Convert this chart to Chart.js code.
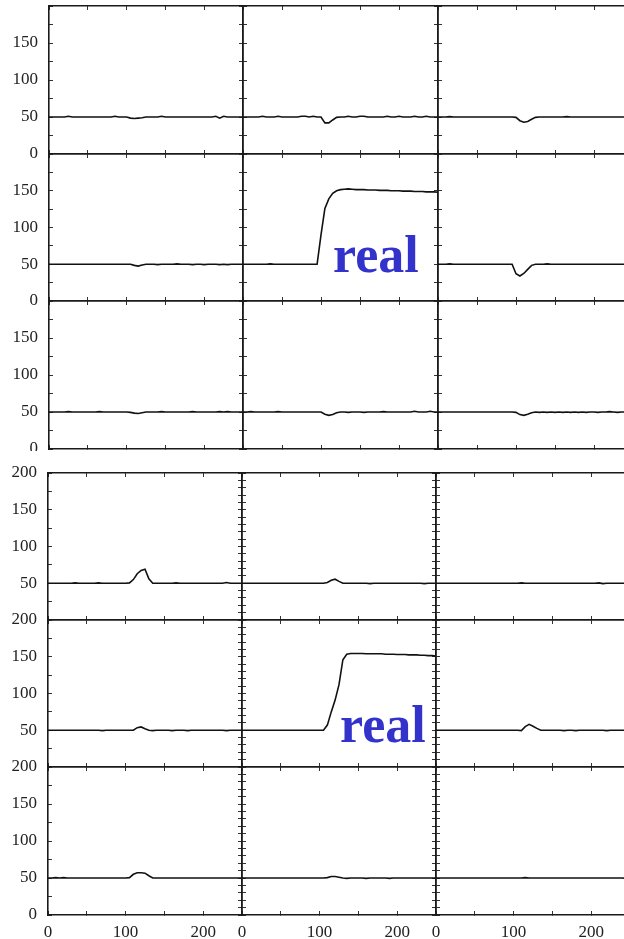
<!DOCTYPE html>
<html><head><meta charset="utf-8">
<script src="https://cdn.jsdelivr.net/npm/chart.js@4.4.1/dist/chart.umd.min.js"></script>
<style>
html,body{margin:0;padding:0;background:#fff;width:624px;height:939px;overflow:hidden;}
body{position:relative;}
canvas{position:absolute;}
.real{position:absolute;z-index:10;font-family:"Liberation Serif","Times New Roman",serif;font-weight:bold;font-size:52px;line-height:52px;color:rgb(51,51,204);white-space:nowrap;}
</style></head><body>
<div id="wrap"></div>
<div class="real" style="left:333px;top:229px">real</div>
<div class="real" style="left:340px;top:699px">real</div>
<script>
// ---- data ----
const xValues = [0,5,10,15,20,25,30,35,40,45, 50,55,60,65,70,75,80,85,90,95,
  100,105,110,115,120,125,130,135,140,145, 150,155,160,165,170,175,180,185,190,195,
  200,205,210,215,220,225,230,235,240,245, 250];

const xTickLabels = [0, 100, 200];
const yTickLabelsTop = [0, 50, 100, 150];
const yTickLabelsBottom = [50, 100, 150, 200];
const yTickLabelsBottomLast = [0, 50, 100, 150, 200];

// upper block of panels
const T11 = [50,50,50,50,50,51,50,50,50,50, 50,50,50,50,50,50,50,51,50,50,
  50,48.5,48,48.5,49,50,50,50,50,51, 50,50,50,50,50,50,50,50,50,50,
  50,50,50,51,48.5,51,50,50,50,50, 50];
const T12 = [50,50,50,50,50,51,50,50,50,51, 50,50,50,50,50,51,51,50,51,50,
  50,42,42,46,49.5,50,50,51,50,50, 51,51,50,50,50,50,50,51,50,50,
  51,50,50,50,51,50,50,51,50,50, 50];
const T13 = [50,50,50,50.5,50,50,50,50,50,50, 50,50,50,50,50,50,50,50,50,50,
  49.5,45,43,44,47,49.5,50,50,50,50, 50,50,50,50.5,50,50,50,50,50,50,
  50,50,50,50,50,50,50,50,50,50, 50];
const T21 = [50,50,50,50,50,50,50,50,50,50, 50,50,50,50,50,50,50,50,50,50,
  50,50,48.5,47.5,49,50,50,50,49.5,50, 50,50,50,50.5,50,50,50,49.5,50,50,
  49.5,50,50,50,49.5,50,49.5,50,50,50, 50];
const T22 = [50,50,50,50,50,50,50,50.5,50,50, 50,50,50,50,50,50,50,50,50,50,
  90,126,139,146.5,150,151.5,152,152.5,152,151.5, 151.5,151.5,151,151,151,150.5,150.5,150.5,150,150,
  150,149.5,149.5,149.5,149,149,149,148.5,148.5,148.5, 148];
const T23 = [50,50,50,50.5,50,50,50,50,50,50, 50,50,50,50,50,50,50,50,50,50,
  37,34,37.5,43,48.5,50,50,50,50.5,50, 50,50,50,50,50,50,50,50,50,50,
  50,50,50,50,50,50,50,50,50,50, 50];
const T31 = [50,50,50,50,50,50.5,50,50,50,50, 50,50,50,50.5,50,50,50,50,50,50,
  50,49.5,48.5,48,49,50,50,50,50,50.5, 50,50,50,50,50,50,50,50.5,50,50,
  50,50,50,50,50.5,50,50.5,50,50,50, 50];
const T32 = [50,50,50.5,50,50,50,50,50,50,50.5, 50,50,50,50,50,50,50,50,50,50,
  50,47,45.5,46.5,49,50,50,49.5,50,50, 50,49.5,50,50,50,50,50.5,50,50,50,
  50,50,50,50,51,50,50,50,51,50, 50];
const T33 = [50,50,50,50,50,50,50,50,50,50, 50,50,50,50,50,50,50,50,50,50,
  49.5,46.5,45.5,47,49,50,49.5,50,49.5,50, 49.5,50,49.5,50,49.5,50,49.5,50,49.5,50,
  50,49.5,50,50,50.5,50,49.5,50,50,50, 50];

// lower block of panels
const B11 = [50,50,50,50,50,50,50,50.5,50,50, 50,50,50,50.5,50,50,50,50,50,50,
  50,50.5,55,63,67.5,69,56,50,50,50, 50,50,50,50.5,50,50,50,50,50,50,
  50,50,50,50,50,50,51,50,50,50, 50];
const B12 = [50,50,50,50,50,50,50,50,50,50, 50,50,50,50,50,50,50,50,50,50,
  50,50,51,54,55.5,52.5,50,50,50,50, 50,50,50,49.5,50,50,50,50,50,50,
  50,50,50,50,50,50,50,49.5,50,50, 50];
const B13 = [50,50,50,50,50,50,50,50,50,50, 50,50,50,50,50,50,50,50,50,50,
  50,50,50.5,50,50,50,50,50,50,50, 50,50,50,50,50,50,50,50,50,50,
  50,50,50.5,49.5,50,50,50,50,50,50, 50];
const B21 = [50,50,50,50,50,50,50,50,50,50, 50,50,50,50,49.5,50,50,50,50,50,
  50,50,50,53.5,54.5,52,50,49.5,50,50, 50,50,49.5,50,50,50,49.5,50,50,50,
  50,50,50,50,50,50,49.5,50,50,50, 50];
const B22 = [50,50,50,50,50,50,50,50,50,50, 50,50,50,50,50,50,50,50,50,50,
  50,50,57,75,91,112,146,153.5,154.5,154.5, 154.5,154.5,154,154,154,154,154,153.5,153.5,153.5,
  153,153,153,152.5,152.5,152.5,152,152,151.5,151.5, 151];
const B23 = [50,50,50,50,50,50,50,50,50,50, 50,50,50,50,50,50,50,50,50,50,
  50,50,49.5,55,58,55.5,52.5,50,50,50, 50,50,50,49.5,50,50,49.5,50,50,50,
  50,50,50,50,49.5,50,50,50,50,50, 50];
const B31 = [50,50,50.5,50,50.5,50,50,50,50,50, 50,50,50,50,50,50,50,50,50,50,
  50,50.5,55,57,57,56.5,53,50,50,50, 50,50,50,50,50,50,50,50,50,50,
  50,50,50,50,50,50,50,50,50,50, 50];
const B32 = [50,50,50,50,50,50,50,50,50,50, 50,50,50,50,50,50,50,50,50,50,
  50,50,50.5,52,52,51,50,49.5,50,50, 50,50,49.5,50,50,50,50,50,49.5,50,
  50,50,50,50,50,50,50,50,50,50, 50];
const B33 = [50,50,50,50,50,50,50,50,50,50, 50,50,50,50,50,50,50,50,50,50,
  50,50,50,50.5,50,50,50,50,50,50, 50,50,50,50,50,50,50,50,50,50,
  50,50,50,50,50,50,50,50,50,49.5, 50];

// ---- layout ----
const GEOM = {
  top:    { cols: [49, 243, 438], colW: [194, 195, 195], rows: [6, 154, 301], rowH: [148, 147, 148] },
  bottom: { cols: [48, 242, 436], colW: [194, 194, 194], rows: [473, 620, 767], rowH: [147, 147, 148] }
};
const PADX = 6;
const FRAME = '#1a1a1a';
const TICKC = '#333';
const FONT = { family: "'Liberation Serif','Times New Roman',serif", size: 17 };
const LABELC = '#222';

function fixSize(size) {
  return function (s) {
    if (s.isHorizontal()) s.height = size; else s.width = size;
    s.paddingTop = 0; s.paddingBottom = 0; s.paddingLeft = 0; s.paddingRight = 0;
  };
}

function makePanel(series, grid, row, col) {
  const g = GEOM[grid];
  const left = g.cols[col], top = g.rows[row], w = g.colW[col], h = g.rowH[row];
  const firstCol = col === 0;
  const xLabels = grid === 'bottom' && row === 2;
  const padT = (grid === 'top' && row === 0) ? 6 : 12;
  let padB = 12;
  if (grid === 'top' && row === 2) padB = 2;
  if (xLabels) padB = 939 - (top + h);
  const padL = firstCol ? left : PADX;
  const cv = document.createElement('canvas');
  const cw = padL + w + PADX, ch = padT + h + padB;
  cv.width = cw; cv.height = ch;
  cv.style.left = (left - padL) + 'px';
  cv.style.top = (top - padT) + 'px';
  cv.style.width = cw + 'px'; cv.style.height = ch + 'px';
  document.getElementById('wrap').appendChild(cv);

  let yLabels = yTickLabelsTop;
  if (grid === 'bottom') yLabels = row === 2 ? yTickLabelsBottomLast : yTickLabelsBottom;
  const leftStep = grid === 'top' ? 25 : (firstCol ? 25 : 10);
  const rightStep = grid === 'top' ? 25 : 10;

  const gridOpt = { drawOnChartArea: false, drawTicks: true, tickLength: -4, color: TICKC, tickColor: TICKC, lineWidth: 1, tickWidth: 1 };
  const borderOpt = { display: true, color: FRAME, width: 1.6 };

  new Chart(cv, {
    type: 'line',
    data: {
      datasets: [{
        data: xValues.map((x, i) => ({ x: x, y: series[i] })),
        borderColor: '#111', borderWidth: 1.6, pointRadius: 0, tension: 0, fill: false
      }]
    },
    options: {
      responsive: false, animation: false, devicePixelRatio: 1,
      layout: { padding: { left: firstCol ? 0 : PADX, right: PADX, top: padT, bottom: xLabels ? 0 : padB } },
      plugins: { legend: { display: false }, tooltip: { enabled: false } },
      scales: {
        x: {
          type: 'linear', position: 'bottom', min: 0, max: 250,
          ticks: { stepSize: 50, display: xLabels, autoSkip: false, maxRotation: 0, padding: 11, font: FONT, color: LABELC,
            callback: v => xTickLabels.includes(v) ? String(v) : '' },
          grid: gridOpt, border: borderOpt, afterFit: fixSize(xLabels ? padB : 0)
        },
        x2: {
          type: 'linear', position: 'top', min: 0, max: 250,
          ticks: { stepSize: 50, display: false },
          grid: gridOpt, border: borderOpt, afterFit: fixSize(0)
        },
        y: {
          type: 'linear', position: 'left', min: 0, max: 200,
          ticks: { stepSize: leftStep, display: firstCol, autoSkip: false, padding: 15, font: FONT, color: LABELC,
            callback: v => yLabels.includes(v) ? String(v) : '' },
          grid: gridOpt, border: borderOpt, afterFit: fixSize(firstCol ? padL : 0)
        },
        y2: {
          type: 'linear', position: 'right', min: 0, max: 200,
          ticks: { stepSize: rightStep, display: false },
          grid: gridOpt, border: borderOpt, afterFit: fixSize(0)
        }
      }
    }
  });
}

const topPanels = [[T11, T12, T13], [T21, T22, T23], [T31, T32, T33]];
const bottomPanels = [[B11, B12, B13], [B21, B22, B23], [B31, B32, B33]];
topPanels.forEach((r, ri) => r.forEach((s, ci) => makePanel(s, 'top', ri, ci)));
bottomPanels.forEach((r, ri) => r.forEach((s, ci) => makePanel(s, 'bottom', ri, ci)));
</script>
</body></html>
